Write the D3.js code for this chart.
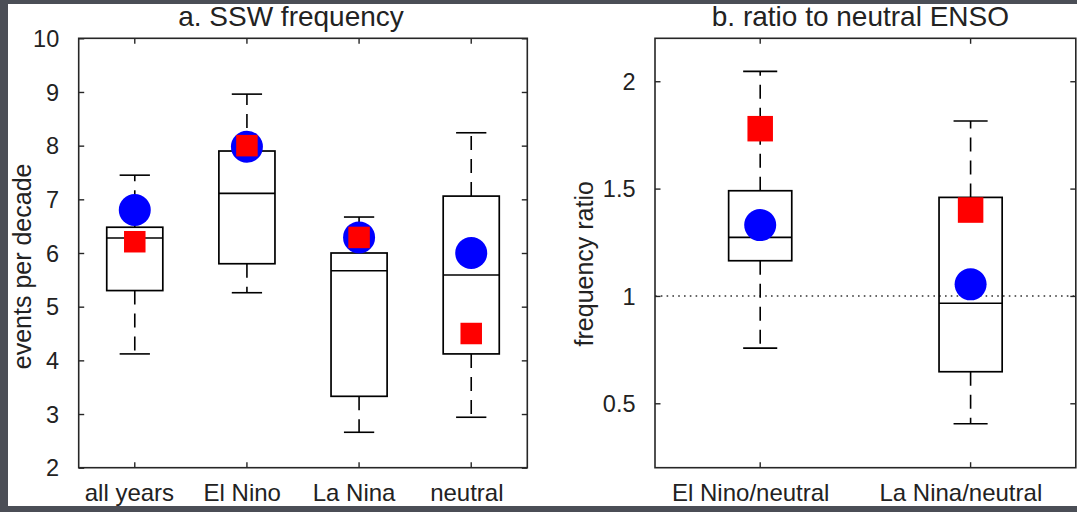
<!DOCTYPE html>
<html>
<head>
<meta charset="utf-8">
<script src="https://cdn.jsdelivr.net/npm/d3@7"></script>
<style>
  html, body { margin: 0; padding: 0; background: #4b4e56; }
  svg { display: block; }
  text { font-family: "Liberation Sans", Arial, sans-serif; fill: #222222; }
</style>
</head>
<body>
<svg id="chart" width="1077" height="512"></svg>
<script>
// ---------------- data ----------------
const categoriesA   = ["all years", "El Nino", "La Nina", "neutral"];
const whiskerLowA   = [4.12, 5.26, 2.66, 2.94];
const q1A           = [5.30, 5.80, 3.33, 4.12];
const medianA       = [6.28, 7.11, 5.67, 5.59];
const q3A           = [6.48, 7.90, 6.00, 7.06];
const whiskerHighA  = [7.45, 8.96, 6.67, 8.24];
const circleA       = [6.80, 7.98, 6.29, 6.00];
const squareA       = [6.21, 8.00, 6.29, 4.50];
const yTicksA       = [2, 3, 4, 5, 6, 7, 8, 9, 10];
const yDomainA      = [2, 10];

const categoriesB   = ["El Nino/neutral", "La Nina/neutral"];
const whiskerLowB   = [0.757, 0.405];
const q1B           = [1.164, 0.647];
const medianB       = [1.273, 0.966];
const q3B           = [1.490, 1.459];
const whiskerHighB  = [2.046, 1.815];
const circleB       = [1.330, 1.054];
const squareB       = [1.779, 1.400];
const yTicksB       = [0.5, 1, 1.5, 2];
const yDomainB      = [0.2, 2.2];
const refLineB      = 1;

// ---------------- layout / style ----------------
const svg = d3.select("#chart");
svg.append("rect").attr("x", 8).attr("y", 4).attr("width", 1069).attr("height", 502).attr("fill", "#ffffff");

const TOP = 38.3, BOTTOM = 467.7;
const panels = [
  { left: 78.7, right: 527.3, cats: categoriesA, lo: whiskerLowA, q1: q1A, med: medianA, q3: q3A, hi: whiskerHighA,
    circ: circleA, sq: squareA, ticks: yTicksA, dom: yDomainA, boxFrac: 0.5, sqSize: 21.5,
    title: "a. SSW frequency", titleShift: -12, ylabel: "events per decade", ylabelX: 31, ref: null },
  { left: 655, right: 1075.8, cats: categoriesB, lo: whiskerLowB, q1: q1B, med: medianB, q3: q3B, hi: whiskerHighB,
    circ: circleB, sq: squareB, ticks: yTicksB, dom: yDomainB, boxFrac: 0.3, sqSize: 25.5,
    title: "b. ratio to neutral ENSO", titleShift: -5, ylabel: "frequency ratio", ylabelX: 593, ref: refLineB }
];

const axisColor = "#262626";
const tickLen = 5.5;

panels.forEach(p => {
  const x = d3.scaleBand().domain(p.cats).range([p.left, p.right]).paddingInner(0).paddingOuter(0);
  const y = d3.scaleLinear().domain(p.dom).range([BOTTOM, TOP]);
  const bw = x.bandwidth();
  const cx = c => x(c) + bw / 2;
  const g = svg.append("g");

  // reference line
  if (p.ref !== null) {
    g.append("line")
      .attr("x1", p.left).attr("x2", p.right)
      .attr("y1", y(p.ref)).attr("y2", y(p.ref))
      .attr("stroke", "#333").attr("stroke-width", 1.5)
      .attr("stroke-dasharray", "1.6,4.2");
  }

  // axes using d3 axis generators (ticks inward)
  const axL = d3.axisLeft(y).tickValues(p.ticks).tickSize(-tickLen).tickPadding(14 + tickLen).tickFormat(d3.format("~g"));
  const axR = d3.axisRight(y).tickValues(p.ticks).tickSize(-tickLen).tickFormat("");
  const axB = d3.axisBottom(x).tickSize(-tickLen).tickPadding(0).tickFormat("");
  const axT = d3.axisTop(x).tickSize(-tickLen).tickFormat("");

  const gl = g.append("g").attr("transform", `translate(${p.left},0)`).call(axL);
  const gr = g.append("g").attr("transform", `translate(${p.right},0)`).call(axR);
  const gb = g.append("g").attr("transform", `translate(0,${BOTTOM})`).call(axB);
  const gt = g.append("g").attr("transform", `translate(0,${TOP})`).call(axT);
  [gl, gr, gb, gt].forEach(a => {
    a.select(".domain").remove();
    a.selectAll(".tick line").attr("stroke", axisColor).attr("stroke-width", 1.4);
  });
  gl.selectAll(".tick text").attr("font-size", 23.5).attr("fill", "#222")
    .attr("font-family", "'Liberation Sans', Arial, sans-serif").attr("dy", "0.35em");

  // x labels
  p.cats.forEach(c => {
    const t = g.append("text")
      .attr("x", cx(c)).attr("y", 501)
      .attr("text-anchor", "middle").attr("font-size", 24)
      .text(c);
    const len = t.node().getComputedTextLength();
    t.attr("x", cx(c) - 0.06 * len);
  });

  // frame
  g.append("rect")
    .attr("x", p.left).attr("y", TOP)
    .attr("width", p.right - p.left).attr("height", BOTTOM - TOP)
    .attr("fill", "none").attr("stroke", axisColor).attr("stroke-width", 1.6);

  // title
  g.append("text")
    .attr("x", (p.left + p.right) / 2 + p.titleShift).attr("y", 25.5)
    .attr("text-anchor", "middle").attr("font-size", 28)
    .text(p.title);

  // y label
  const yl = g.append("text")
    .attr("transform", `translate(${p.ylabelX},${(TOP + BOTTOM) / 2}) rotate(-90)`)
    .attr("text-anchor", "middle").attr("font-size", 25)
    .text(p.ylabel);
  const ylen = yl.node().getComputedTextLength();
  yl.attr("transform", `translate(${p.ylabelX},${(TOP + BOTTOM) / 2 + 0.065 * ylen}) rotate(-90)`);

  // boxes
  const boxW = bw * p.boxFrac;
  const capW = boxW * 0.54;
  p.cats.forEach((c, i) => {
    const xc = cx(c);
    // whiskers (dashed, starting at box edge)
    g.append("line").attr("x1", xc).attr("x2", xc).attr("y1", y(p.q3[i])).attr("y2", y(p.hi[i]))
      .attr("stroke", "#000").attr("stroke-width", 1.6).attr("stroke-dasharray", "14,9");
    g.append("line").attr("x1", xc).attr("x2", xc).attr("y1", y(p.q1[i])).attr("y2", y(p.lo[i]))
      .attr("stroke", "#000").attr("stroke-width", 1.6).attr("stroke-dasharray", "14,9");
    // caps
    [p.hi[i], p.lo[i]].forEach(v => {
      g.append("line").attr("x1", xc - capW / 2).attr("x2", xc + capW / 2).attr("y1", y(v)).attr("y2", y(v))
        .attr("stroke", "#000").attr("stroke-width", 1.6);
    });
    // box
    g.append("rect").attr("x", xc - boxW / 2).attr("y", y(p.q3[i]))
      .attr("width", boxW).attr("height", y(p.q1[i]) - y(p.q3[i]))
      .attr("fill", "none").attr("stroke", "#000").attr("stroke-width", 1.7);
    // median
    g.append("line").attr("x1", xc - boxW / 2).attr("x2", xc + boxW / 2)
      .attr("y1", y(p.med[i])).attr("y2", y(p.med[i]))
      .attr("stroke", "#000").attr("stroke-width", 1.6);
  });

  // markers
  g.selectAll("circle.mk").data(p.cats).join("circle")
    .attr("class", "mk")
    .attr("cx", c => cx(c)).attr("cy", (c, i) => y(p.circ[i]))
    .attr("r", 16).attr("fill", "#0000ff");
  g.selectAll("rect.sq").data(p.cats).join("rect")
    .attr("class", "sq")
    .attr("x", c => cx(c) - p.sqSize / 2).attr("y", (c, i) => y(p.sq[i]) - p.sqSize / 2)
    .attr("width", p.sqSize).attr("height", p.sqSize).attr("fill", "#ff0000");
});
</script>
</body>
</html>
